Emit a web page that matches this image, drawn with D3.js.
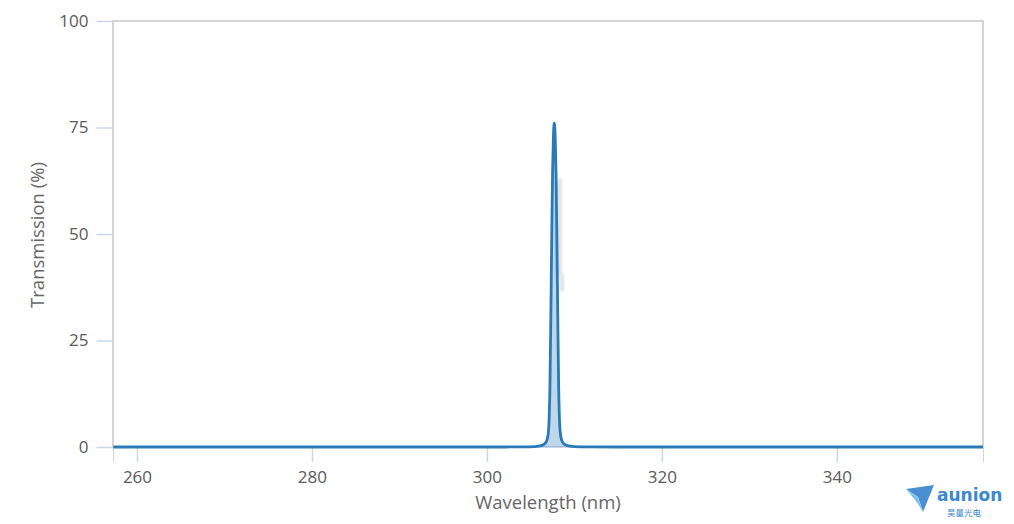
<!DOCTYPE html>
<html>
<head>
<meta charset="utf-8">
<script src="https://cdn.jsdelivr.net/npm/d3@7"></script>
<style>
  html, body { margin: 0; padding: 0; background: #fff; }
  svg { display: block; font-family: "Open Sans", "Noto Sans", sans-serif; }
</style>
</head>
<body>
<svg id="chart" width="1014" height="524"></svg>
<script>
// ---- data ----
const wavelengths = [257.3, 300, 304, 305.5, 306.2, 306.5, 306.8, 307.0, 307.1, 307.2, 307.3, 307.4, 307.5, 307.6, 307.7,
                     307.8, 307.9, 308.0, 308.1, 308.2, 308.3, 308.4, 308.6, 308.9, 309.2, 310, 311.5, 315, 356.7];
const transmission = [0, 0, 0.02, 0.1, 0.3, 0.6, 1.3, 3, 6, 14, 30, 48, 64, 73, 76,
                      73, 64, 48, 30, 14, 6, 3, 1.3, 0.6, 0.3, 0.1, 0.02, 0, 0];
const xTicks = [260, 280, 300, 320, 340];
const yTicks = [0, 25, 50, 75, 100];
const xDomain = [257.26, 356.7];
const yDomain = [0, 100];
const xTitle = "Wavelength (nm)";
const yTitle = "Transmission (%)";

const points = wavelengths.map((w, i) => ({ w, t: transmission[i] }));

// ---- layout ----
const svg = d3.select("#chart");
const L = 113, R = 983, T = 21, B = 447;
const x = d3.scaleLinear().domain(xDomain).range([L, R]);
const y = d3.scaleLinear().domain(yDomain).range([B, T]);

const defs = svg.append("defs");
defs.append("filter").attr("id", "blur").append("feGaussianBlur").attr("stdDeviation", 1.5);
defs.append("clipPath").attr("id", "clip").append("rect")
  .attr("x", L).attr("y", T).attr("width", R - L).attr("height", B - T);

// plot border
svg.append("rect")
  .attr("x", L).attr("y", T).attr("width", R - L).attr("height", B - T)
  .attr("fill", "none").attr("stroke", "#c8c8c8").attr("stroke-width", 1.5);

// Y axis (ticks to the left)
const yAxis = d3.axisLeft(y).tickValues(yTicks).tickSize(16).tickPadding(8).tickFormat(d3.format("d"));
const gy = svg.append("g").attr("transform", `translate(${L - 0.5},0)`).call(yAxis);
gy.select(".domain").remove();
gy.selectAll(".tick line").attr("stroke", "#ccd6eb").attr("stroke-width", 1.5);
gy.selectAll(".tick text").attr("fill", "#5a5a5a").style("font-size", "17px")
  .style("font-family", "'Open Sans', sans-serif");

// X axis
const xAxis = d3.axisBottom(x).tickValues(xTicks).tickSize(15).tickPadding(9).tickFormat(d3.format("d"));
const gx = svg.append("g").attr("transform", `translate(0,${B})`).call(xAxis);
gx.select(".domain").attr("stroke", "#ccd6eb");
gx.selectAll(".tick line").attr("stroke", "#ccd6eb").attr("stroke-width", 1.5);
gx.selectAll(".tick text").attr("fill", "#5a5a5a").style("font-size", "17px")
  .style("font-family", "'Open Sans', sans-serif");

// titles
svg.append("text").attr("x", 548).attr("y", 509)
  .attr("text-anchor", "middle").attr("fill", "#666").style("font-size", "18.5px").text(xTitle);
svg.append("text").attr("transform", `translate(44,235) rotate(-90)`)
  .attr("text-anchor", "middle").attr("fill", "#666").style("font-size", "18.5px").text(yTitle);

// faint shadow artifact near the peak
svg.append("rect")
  .attr("x", x(307.85)).attr("y", y(63)).attr("width", x(308.6) - x(307.85)).attr("height", y(40) - y(63))
  .attr("fill", "#e2e2e2").attr("filter", "url(#blur)");
svg.append("rect")
  .attr("x", x(308.3)).attr("y", y(40.5)).attr("width", x(308.85) - x(308.3)).attr("height", y(36.5) - y(40.5))
  .attr("fill", "#e2e2e2").attr("filter", "url(#blur)");

// series
const plot = svg.append("g").attr("clip-path", "url(#clip)");
const area = d3.area().x(d => x(d.w)).y0(y(0)).y1(d => y(d.t)).curve(d3.curveMonotoneX);
const line = d3.line().x(d => x(d.w)).y(d => y(d.t)).curve(d3.curveMonotoneX);
plot.append("path").datum(points).attr("d", area).attr("fill", "#2c7bb6").attr("fill-opacity", 0.3);
svg.append("path").datum(points).attr("d", line)
  .attr("fill", "none").attr("stroke", "#2a7ab8").attr("stroke-width", 2.8).attr("stroke-linejoin", "round");

// logo
const logo = svg.append("g");
logo.append("path").attr("d", "M906,489 L934,485 L923,512 L918,497 Z").attr("fill", "#4a90d0");
logo.append("path").attr("d", "M906,489 L918,497 L923,512 C918,503 912,496 906,489 Z").attr("fill", "#7fc2ec");
logo.append("text").attr("x", 937).attr("y", 501).attr("fill", "#3b88cf")
  .style("font-size", "17px").style("font-weight", "bold").style("font-family", "'DejaVu Sans', sans-serif")
  .text("aunion");
logo.append("text").attr("x", 947).attr("y", 516).attr("fill", "#3b88cf")
  .style("font-size", "8.5px").style("font-family", "'Noto Sans CJK SC', sans-serif").text("昊量光电");
</script>
</body>
</html>
